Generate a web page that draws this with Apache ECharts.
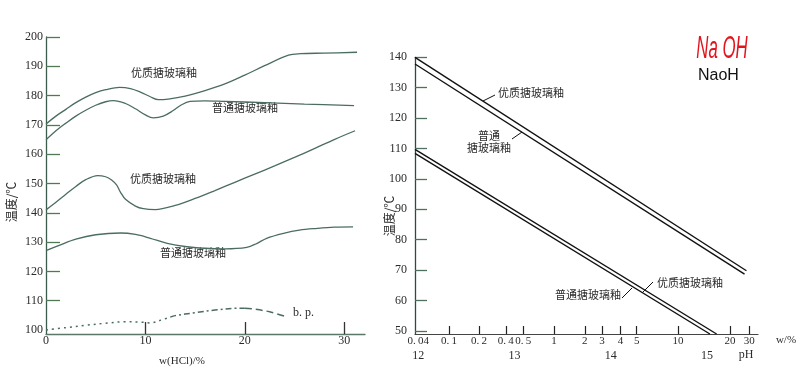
<!DOCTYPE html>
<html>
<head>
<meta charset="utf-8">
<script src="https://cdn.jsdelivr.net/npm/echarts@6/dist/echarts.min.js"></script>
<style>html,body{margin:0;padding:0;background:#fff}#c{width:800px;height:369px}</style>
</head>
<body>
<div id="c"></div>
<script>
// ---------- Left panel: w(HCl)/% vs temperature ----------
const premiumHighX = [0, 1, 2, 3, 4, 5, 6, 7.4, 8.5, 9.5, 10.5, 11.3, 12.3, 14, 16, 18, 20, 22, 24.4, 25.6, 28, 31.3];
const premiumHighY = [170.3, 173, 175.3, 177.6, 179.5, 181, 182, 182.8, 182.4, 181.2, 179.6, 178.6, 178.8, 179.8, 181.7, 184.0, 187.0, 190.2, 193.8, 194.3, 194.5, 194.8];

const standardHighX = [0, 1, 2, 3, 4, 5, 6, 6.8, 8, 9, 10, 10.8, 11.8, 12.8, 13.6, 14.5, 16, 18, 22, 26, 31];
const standardHighY = [164.9, 168, 170.6, 173, 175, 176.7, 177.9, 178.3, 177.3, 175.5, 173.4, 172.4, 173.0, 174.9, 176.8, 178.0, 178.2, 178.0, 177.6, 177.1, 176.6];

const premiumLowX = [0, 1, 2, 3, 4, 5.2, 6, 6.6, 7.1, 7.5, 8, 9, 9.8, 11, 13, 15, 17, 19, 21, 23, 25, 27, 29, 31.1];
const premiumLowY = [141.0, 143.6, 146.3, 149, 151.3, 152.7, 152.3, 151.2, 149.5, 147, 144.6, 142.3, 141.4, 141.1, 142.5, 144.9, 147.6, 150.4, 153.2, 156, 158.9, 161.9, 165, 168];

const standardLowX = [0, 1.4, 3, 5, 7.5, 9, 10.5, 12.2, 14, 16, 18, 20.2, 21.2, 22.2, 23.9, 25.5, 27.3, 29, 30.9];
const standardLowY = [127.1, 129, 131, 132.5, 133.1, 132.6, 131.3, 129.6, 128.5, 127.9, 127.7, 128.2, 129.5, 131.3, 133.0, 134.1, 134.7, 135.1, 135.2];

// boiling point curve, split by line style (dotted / dash-dot / dashed)
const bpDotX = [0, 2, 4, 6, 8, 9.5, 10.5, 11.5, 12.5];
const bpDotY = [100.0, 100.8, 101.6, 102.3, 102.8, 102.7, 102.4, 103.3, 104.4];
const bpDashDotX = [12.5, 13, 15, 17, 19.2, 20];
const bpDashDotY = [104.4, 104.9, 105.9, 106.8, 107.4, 107.4];
const bpDashX = [20, 21, 22.5, 24.2];
const bpDashY = [107.4, 107.1, 106.2, 104.5];

const leftXTicks = [10, 20, 30];
const leftXLabels = [0, 10, 20, 30];
const leftYTicks = [110, 120, 130, 140, 150, 160, 170, 180, 190, 200];
const leftYLabels = [100, 110, 120, 130, 140, 150, 160, 170, 180, 190, 200];

// ---------- Right panel: pH (w/% NaOH) vs temperature ----------
const wLabels = ['0.\u200904', '0.\u20091', '0.\u20092', '0.\u20094', '0.\u20095', '1', '2', '3', '4', '5', '10', '20', '30'];
const wLabelPH = [12.0, 12.32, 12.63, 12.91, 13.09, 13.41, 13.73, 13.91, 14.10, 14.27, 14.70, 15.24, 15.44];
const wTickPH = [12.32, 12.63, 12.91, 13.09, 13.41, 13.73, 13.91, 14.10, 14.27, 14.70, 15.24, 15.44];
const pHLabels = [12, 13, 14, 15];
const rightYLabels = [50, 60, 70, 80, 90, 100, 110, 120, 130, 140];

const premiumNaOHPH = [11.966, 15.41];
const premiumNaOHT = [140, 69.8];
const standardNaOHPH = [11.966, 15.39];
const standardNaOHT = [137.8, 68.7];
const premiumNaOHLowPH = [11.966, 15.10];
const premiumNaOHLowT = [109.7, 49];
const standardNaOHLowPH = [11.966, 15.03];
const standardNaOHLowT = [108.4, 49];

const zip = (xs, ys) => xs.map((x, i) => [x, ys[i]]);

const curveColor = '#4b6d5f';
const numFont = 'Liberation Serif';
const cjkFont = '"Noto Sans CJK SC"';
const txt = '#2b2b2b';

function curve(xs, ys, type, width) {
  return {
    type: 'line', xAxisIndex: 0, yAxisIndex: 0, data: zip(xs, ys),
    smooth: 0.35, showSymbol: false, silent: true,
    lineStyle: { color: curveColor, width: width || 1.3, type: type || 'solid' }
  };
}
function straight(xs, ys) {
  return {
    type: 'line', xAxisIndex: 1, yAxisIndex: 1, data: zip(xs, ys),
    showSymbol: false, silent: true,
    lineStyle: { color: '#111', width: 1.4 }
  };
}

const chart = echarts.init(document.getElementById('c'), null, { renderer: 'canvas' });
const option = {
  animation: false,
  backgroundColor: '#fff',
  grid: [
    { left: 46, top: 37, width: 319, height: 297 },
    { left: 415, top: 57.3, width: 343, height: 276.7 }
  ],
  xAxis: [
    {
      gridIndex: 0, type: 'value', min: 0, max: 32.1,
      axisLine: { lineStyle: { color: '#5d766a', width: 1.3 } },
      axisTick: { inside: true, length: 12, customValues: leftXTicks, lineStyle: { color: '#333', width: 1.3 } },
      axisLabel: { customValues: leftXLabels, margin: 1, fontFamily: numFont, fontSize: 12, color: txt },
      splitLine: { show: false }
    },
    {
      gridIndex: 1, type: 'value', min: 11.966, max: 15.53,
      axisLine: { lineStyle: { color: '#444', width: 1.2 } },
      axisTick: { inside: true, length: 8, customValues: wTickPH, lineStyle: { color: '#222', width: 1.2 } },
      axisLabel: {
        customValues: wLabelPH, margin: 2, fontFamily: numFont, fontSize: 11, color: txt,
        formatter: function (v) {
          for (let i = 0; i < wLabelPH.length; i++) if (Math.abs(wLabelPH[i] - v) < 1e-6) return wLabels[i];
          return '';
        }
      },
      splitLine: { show: false }
    },
    {
      gridIndex: 1, type: 'value', min: 11.966, max: 15.53, position: 'bottom', offset: 14,
      axisLine: { show: false }, axisTick: { show: false },
      axisLabel: { customValues: pHLabels, margin: 2, fontFamily: numFont, fontSize: 12, color: txt },
      splitLine: { show: false }
    }
  ],
  yAxis: [
    {
      gridIndex: 0, type: 'value', min: 98.63, max: 200,
      axisLine: { show: true, lineStyle: { color: '#3c5a4d', width: 1.3 } },
      axisTick: { show: true, inside: true, length: 14, customValues: leftYTicks, lineStyle: { color: '#4f7a55', width: 1.3 } },
      axisLabel: { customValues: leftYLabels, margin: 3, fontFamily: numFont, fontSize: 12, color: txt },
      splitLine: { show: false }
    },
    {
      gridIndex: 1, type: 'value', min: 49, max: 140,
      axisLine: { show: true, lineStyle: { color: '#2f4a3f', width: 1.3 } },
      axisTick: { show: true, inside: true, length: 12, customValues: rightYLabels, lineStyle: { color: '#4f7060', width: 1.3 } },
      axisLabel: { customValues: rightYLabels, margin: 8, fontFamily: numFont, fontSize: 12, color: txt },
      splitLine: { show: false }
    }
  ],
  series: [
    curve(premiumHighX, premiumHighY),
    curve(standardHighX, standardHighY),
    curve(premiumLowX, premiumLowY),
    curve(standardLowX, standardLowY),
    curve(bpDotX, bpDotY, [2, 4], 1.5),
    curve(bpDashDotX, bpDashDotY, [6, 3, 2, 3], 1.5),
    curve(bpDashX, bpDashY, [7, 4], 1.5),
    straight(premiumNaOHPH, premiumNaOHT),
    straight(standardNaOHPH, standardNaOHT),
    straight(premiumNaOHLowPH, premiumNaOHLowT),
    straight(standardNaOHLowPH, standardNaOHLowT)
  ],
  graphic: [
    // left panel annotations
    { type: 'text', x: 164, y: 73, style: { text: '优质搪玻璃釉', font: '11px ' + cjkFont, fill: txt, align: 'center', verticalAlign: 'middle' } },
    { type: 'text', x: 245, y: 108, style: { text: '普通搪玻璃釉', font: '11px ' + cjkFont, fill: txt, align: 'center', verticalAlign: 'middle' } },
    { type: 'text', x: 163, y: 179, style: { text: '优质搪玻璃釉', font: '11px ' + cjkFont, fill: txt, align: 'center', verticalAlign: 'middle' } },
    { type: 'text', x: 193, y: 253, style: { text: '普通搪玻璃釉', font: '11px ' + cjkFont, fill: txt, align: 'center', verticalAlign: 'middle' } },
    { type: 'text', x: 293, y: 313, style: { text: 'b. p.', font: '12px ' + numFont, fill: txt, align: 'left', verticalAlign: 'middle' } },
    { type: 'text', x: 182, y: 361, style: { text: 'w(HCl)/%', font: '11px ' + numFont, fill: txt, align: 'center', verticalAlign: 'middle' } },
    { type: 'text', x: 11, y: 202, rotation: Math.PI / 2, style: { text: '温度/℃', font: '12px ' + cjkFont, fill: txt, align: 'center', verticalAlign: 'middle' } },
    // right panel annotations
    { type: 'text', x: 498, y: 93, style: { text: '优质搪玻璃釉', font: '11px ' + cjkFont, fill: txt, align: 'left', verticalAlign: 'middle' } },
    { type: 'line', shape: { x1: 483, y1: 101, x2: 495, y2: 95 }, style: { stroke: '#111', lineWidth: 1 } },
    { type: 'text', x: 489, y: 136, style: { text: '普通', font: '11px ' + cjkFont, fill: txt, align: 'center', verticalAlign: 'middle' } },
    { type: 'text', x: 489, y: 148, style: { text: '搪玻璃釉', font: '11px ' + cjkFont, fill: txt, align: 'center', verticalAlign: 'middle' } },
    { type: 'line', shape: { x1: 512, y1: 139, x2: 522, y2: 132 }, style: { stroke: '#111', lineWidth: 1 } },
    { type: 'text', x: 657, y: 283, style: { text: '优质搪玻璃釉', font: '11px ' + cjkFont, fill: txt, align: 'left', verticalAlign: 'middle' } },
    { type: 'line', shape: { x1: 642, y1: 293, x2: 653, y2: 282 }, style: { stroke: '#111', lineWidth: 1 } },
    { type: 'text', x: 555, y: 295, style: { text: '普通搪玻璃釉', font: '11px ' + cjkFont, fill: txt, align: 'left', verticalAlign: 'middle' } },
    { type: 'line', shape: { x1: 622, y1: 298, x2: 632, y2: 288 }, style: { stroke: '#111', lineWidth: 1 } },
    { type: 'text', x: 786, y: 340, style: { text: 'w/%', font: '11px ' + numFont, fill: txt, align: 'center', verticalAlign: 'middle' } },
    { type: 'text', x: 746, y: 355, style: { text: 'pH', font: '12px ' + numFont, fill: txt, align: 'center', verticalAlign: 'middle' } },
    { type: 'text', x: 389, y: 216, rotation: Math.PI / 2, style: { text: '温度/℃', font: '12px ' + cjkFont, fill: txt, align: 'center', verticalAlign: 'middle' } },
    // handwritten note
    { type: 'text', x: 722, y: 50, scaleX: 0.8, scaleY: 1.45, style: { text: 'Na OH', font: 'italic 21px "Liberation Sans"', fill: '#e3141c', align: 'center', verticalAlign: 'middle' } },
    { type: 'text', x: 698, y: 76, style: { text: 'NaoH', font: '16px "Liberation Sans"', fill: '#111', align: 'left', verticalAlign: 'middle' } }
  ]
};
chart.setOption(option);
</script>
</body>
</html>
